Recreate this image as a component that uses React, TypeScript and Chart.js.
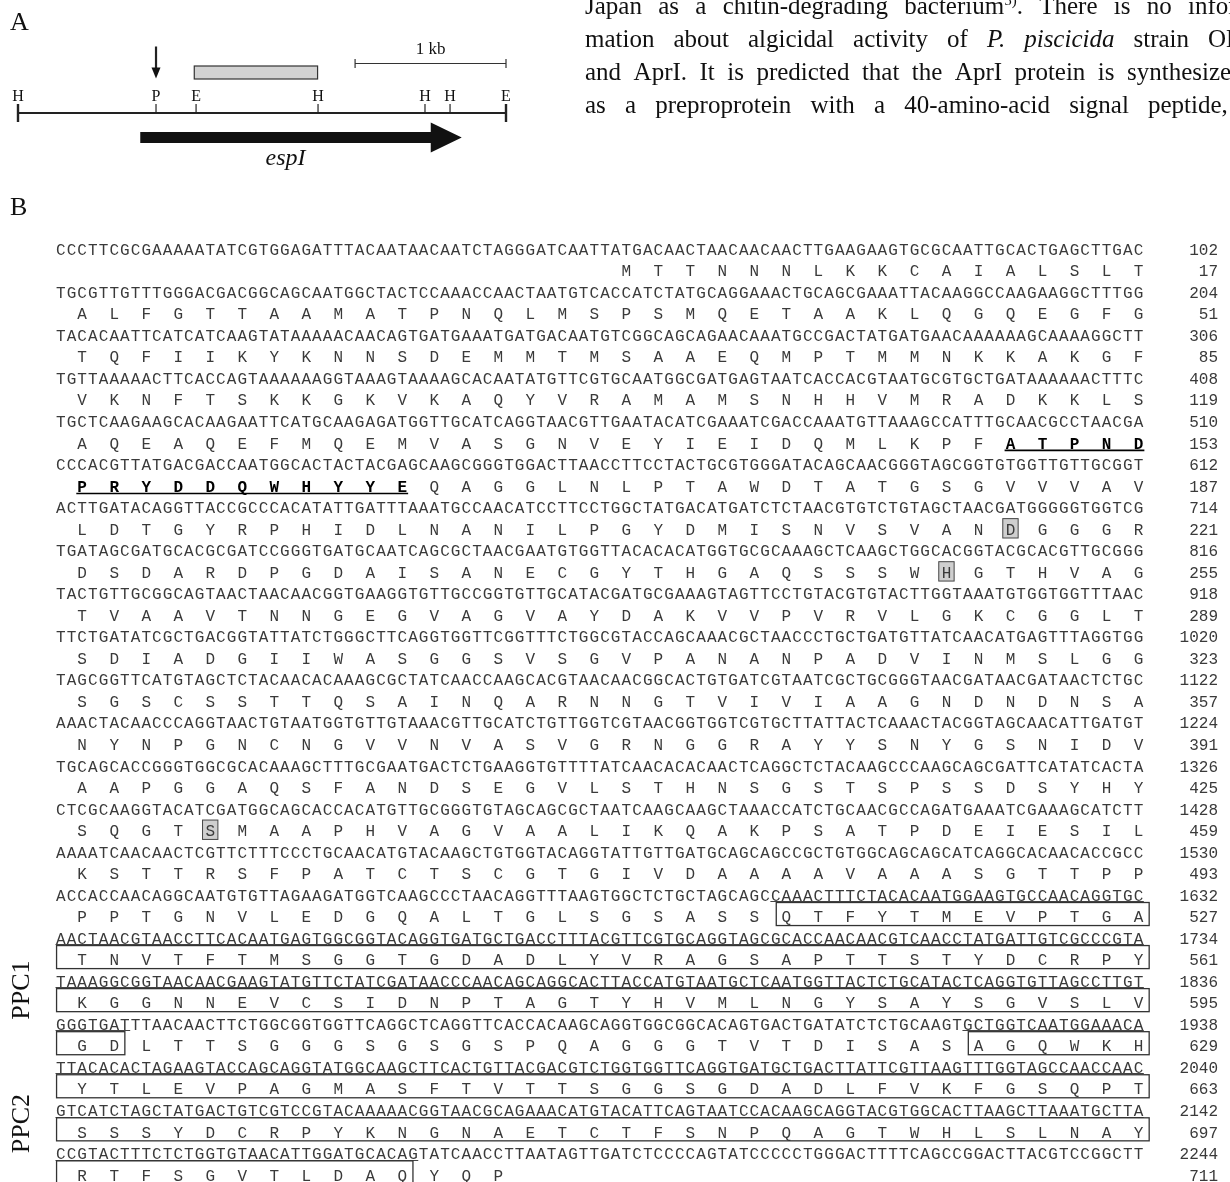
import { useEffect, useRef } from 'react';
import { Chart, registerables } from 'chart.js';

Chart.register(...registerables);

const W = 1230;
const H = 1182;

// ---------------- Panel A data (restriction map, bp) ----------------
const siteLabels = ['H', 'P', 'E', 'H', 'H', 'H', 'E'];
const sitePositionsBp = [0, 920, 1187, 2000, 2713, 2880, 3253];
const promoterBp = 920;
const probeRangeBp = [1175, 1997];
const geneRangeBp = [815, 2958];
const geneLabel = 'espI';
const scaleBarRangeBp = [2247, 3253];
const scaleBarLabel = '1 kb';

// ---------------- Paragraph text (top right) ----------------
type Run = { t: string; it?: boolean; sup?: boolean };
const paragraphLines: Run[][][] = [
  [[{ t: 'Japan' }], [{ t: 'as' }], [{ t: 'a' }], [{ t: 'chitin-degrading' }], [{ t: 'bacterium' }, { t: '5)', sup: true }, { t: '.' }], [{ t: 'There' }], [{ t: 'is' }], [{ t: 'no' }], [{ t: 'infor-' }]],
  [[{ t: 'mation' }], [{ t: 'about' }], [{ t: 'algicidal' }], [{ t: 'activity' }], [{ t: 'of' }], [{ t: 'P.', it: true }], [{ t: 'piscicida', it: true }], [{ t: 'strain' }], [{ t: 'OK-1' }]],
  [[{ t: 'and' }], [{ t: 'AprI.' }], [{ t: 'It' }], [{ t: 'is' }], [{ t: 'predicted' }], [{ t: 'that' }], [{ t: 'the' }], [{ t: 'AprI' }], [{ t: 'protein' }], [{ t: 'is' }], [{ t: 'synthesized' }]],
  [[{ t: 'as' }], [{ t: 'a' }], [{ t: 'preproprotein' }], [{ t: 'with' }], [{ t: 'a' }], [{ t: '40-amino-acid' }], [{ t: 'signal' }], [{ t: 'peptide,' }]],
];

// ---------------- Panel B data (sequence) ----------------
const ntRows: string[] = [
  'CCCTTCGCGAAAAATATCGTGGAGATTTACAATAACAATCTAGGGATCAATTATGACAACTAACAACAACTTGAAGAAGTGCGCAATTGCACTGAGCTTGAC',
  'TGCGTTGTTTGGGACGACGGCAGCAATGGCTACTCCAAACCAACTAATGTCACCATCTATGCAGGAAACTGCAGCGAAATTACAAGGCCAAGAAGGCTTTGG',
  'TACACAATTCATCATCAAGTATAAAAACAACAGTGATGAAATGATGACAATGTCGGCAGCAGAACAAATGCCGACTATGATGAACAAAAAAGCAAAAGGCTT',
  'TGTTAAAAACTTCACCAGTAAAAAAGGTAAAGTAAAAGCACAATATGTTCGTGCAATGGCGATGAGTAATCACCACGTAATGCGTGCTGATAAAAAACTTTC',
  'TGCTCAAGAAGCACAAGAATTCATGCAAGAGATGGTTGCATCAGGTAACGTTGAATACATCGAAATCGACCAAATGTTAAAGCCATTTGCAACGCCTAACGA',
  'CCCACGTTATGACGACCAATGGCACTACTACGAGCAAGCGGGTGGACTTAACCTTCCTACTGCGTGGGATACAGCAACGGGTAGCGGTGTGGTTGTTGCGGT',
  'ACTTGATACAGGTTACCGCCCACATATTGATTTAAATGCCAACATCCTTCCTGGCTATGACATGATCTCTAACGTGTCTGTAGCTAACGATGGGGGTGGTCG',
  'TGATAGCGATGCACGCGATCCGGGTGATGCAATCAGCGCTAACGAATGTGGTTACACACATGGTGCGCAAAGCTCAAGCTGGCACGGTACGCACGTTGCGGG',
  'TACTGTTGCGGCAGTAACTAACAACGGTGAAGGTGTTGCCGGTGTTGCATACGATGCGAAAGTAGTTCCTGTACGTGTACTTGGTAAATGTGGTGGTTTAAC',
  'TTCTGATATCGCTGACGGTATTATCTGGGCTTCAGGTGGTTCGGTTTCTGGCGTACCAGCAAACGCTAACCCTGCTGATGTTATCAACATGAGTTTAGGTGG',
  'TAGCGGTTCATGTAGCTCTACAACACAAAGCGCTATCAACCAAGCACGTAACAACGGCACTGTGATCGTAATCGCTGCGGGTAACGATAACGATAACTCTGC',
  'AAACTACAACCCAGGTAACTGTAATGGTGTTGTAAACGTTGCATCTGTTGGTCGTAACGGTGGTCGTGCTTATTACTCAAACTACGGTAGCAACATTGATGT',
  'TGCAGCACCGGGTGGCGCACAAAGCTTTGCGAATGACTCTGAAGGTGTTTTATCAACACACAACTCAGGCTCTACAAGCCCAAGCAGCGATTCATATCACTA',
  'CTCGCAAGGTACATCGATGGCAGCACCACATGTTGCGGGTGTAGCAGCGCTAATCAAGCAAGCTAAACCATCTGCAACGCCAGATGAAATCGAAAGCATCTT',
  'AAAATCAACAACTCGTTCTTTCCCTGCAACATGTACAAGCTGTGGTACAGGTATTGTTGATGCAGCAGCCGCTGTGGCAGCAGCATCAGGCACAACACCGCC',
  'ACCACCAACAGGCAATGTGTTAGAAGATGGTCAAGCCCTAACAGGTTTAAGTGGCTCTGCTAGCAGCCAAACTTTCTACACAATGGAAGTGCCAACAGGTGC',
  'AACTAACGTAACCTTCACAATGAGTGGCGGTACAGGTGATGCTGACCTTTACGTTCGTGCAGGTAGCGCACCAACAACGTCAACCTATGATTGTCGCCCGTA',
  'TAAAGGCGGTAACAACGAAGTATGTTCTATCGATAACCCAACAGCAGGCACTTACCATGTAATGCTCAATGGTTACTCTGCATACTCAGGTGTTAGCCTTGT',
  'GGGTGATTTAACAACTTCTGGCGGTGGTTCAGGCTCAGGTTCACCACAAGCAGGTGGCGGCACAGTGACTGATATCTCTGCAAGTGCTGGTCAATGGAAACA',
  'TTACACACTAGAAGTACCAGCAGGTATGGCAAGCTTCACTGTTACGACGTCTGGTGGTTCAGGTGATGCTGACTTATTCGTTAAGTTTGGTAGCCAACCAAC',
  'GTCATCTAGCTATGACTGTCGTCCGTACAAAAACGGTAACGCAGAAACATGTACATTCAGTAATCCACAAGCAGGTACGTGGCACTTAAGCTTAAATGCTTA',
  'CCGTACTTTCTCTGGTGTAACATTGGATGCACAGTATCAACCTTAATAGTTGATCTCCCCAGTATCCCCCTGGGACTTTTCAGCCGGACTTACGTCCGGCTT',
];
const ntEndNumbers = [102, 204, 306, 408, 510, 612, 714, 816, 918, 1020, 1122, 1224, 1326, 1428, 1530, 1632, 1734, 1836, 1938, 2040, 2142, 2244];

const aaRows: string[] = [
  'MTTNNNLKKCAIALSLT',
  'ALFGTTAAMATPNQLMSPSMQETAAKLQGQEGFG',
  'TQFIIKYKNNSDEMMTMSAAEQMPTMMNKKAKGF',
  'VKNFTSKKGKVKAQYVRAMAMSNHHVMRADKKLS',
  'AQEAQEFMQEMVASGNVEYIEIDQMLKPFATPND',
  'PRYDDQWHYYEQAGGLNLPTAWDTATGSGVVVAV',
  'LDTGYRPHIDLNANILPGYDMISNVSVANDGGGR',
  'DSDARDPGDAISANECGYTHGAQSSSWHGTHVAG',
  'TVAAVTNNGEGVAGVAYDAKVVPVRVLGKCGGLT',
  'SDIADGIIWASGGSVSGVPANANPADVINMSLGG',
  'SGSCSSTTQSAINQARNNGTVIVIAAGNDNDNSA',
  'NYNPGNCNGVVNVASVGRNGGRAYYSNYGSNIDV',
  'AAPGGAQSFANDSEGVLSTHNSGSTSPSSDSYHY',
  'SQGTSMAAPHVAGVAALIKQAKPSATPDEIESIL',
  'KSTTRSFPATCTSCGTGIVDAAAAVAAASGTTPP',
  'PPTGNVLEDGQALTGLSGSASSQTFYTMEVPTGA',
  'TNVTFTMSGGTGDADLYVRAGSAPTTSTYDCRPY',
  'KGGNNEVCSIDNPTAGTYHVMLNGYSAYSGVSLV',
  'GDLTTSGGGSGSGSPQAGGGTVTDISASAGQWKH',
  'YTLEVPAGMASFTVTTSGGSGDADLFVKFGSQPT',
  'SSSYDCRPYKNGNAETCTFSNPQAGTWHLSLNAY',
  'RTFSGVTLDAQYQP',
];
const aaStartSlot = [17, 0, 0, 0, 0, 0, 0, 0, 0, 0, 0, 0, 0, 0, 0, 0, 0, 0, 0, 0, 0, 0];
const aaEndNumbers = [17, 51, 85, 119, 153, 187, 221, 255, 289, 323, 357, 391, 425, 459, 493, 527, 561, 595, 629, 663, 697, 711];

// bold + underlined motif residues: [row, firstSlot, lastSlot]
const boldMotifs: number[][] = [[4, 29, 33], [5, 0, 10]];
// shaded catalytic residues: [row, slot]
const catalyticResidues: number[][] = [[6, 29], [7, 27], [13, 4]];
// PPC domain boxes on amino-acid rows: [row, firstSlot, lastSlot]
const ppcBoxes: number[][] = [
  [15, 22, 33], [16, 0, 33], [17, 0, 33], [18, 0, 1], [18, 28, 33], [19, 0, 33], [20, 0, 33], [21, 0, 10],
];
// underlined nucleotides: [row, firstCol, lastCol]
const ntUnderlines: number[][] = [
  [15, 67, 101], [16, 0, 101], [17, 0, 101], [18, 0, 6], [18, 85, 101], [19, 0, 101], [20, 0, 101], [21, 0, 33],
];
const domainLabels = ['PPC1', 'PPC2'];
const domainLabelLines = [34.4, 40.6];

// ---------------- layout / style (not data) ----------------
const MONO = '"Liberation Mono", "DejaVu Sans Mono", monospace';
const SERIF = '"Liberation Serif", "DejaVu Serif", serif';
const L = {
  mapLeftPx: 18,
  mapRightPx: 506,
  seqLeftPx: 55.5,
  colPx: 10.67,
  seqTopPx: 249.5,
  linePx: 21.53,
  numRightCol: 108.95,
  labelLeftPx: 10,
  aLabelY: 23,
  bLabelY: 208,
  mapLineY: 113,
  tickTopY: 104,
  endTickTopY: 104,
  endTickBottomY: 122,
  siteLabelBaseY: 100.5,
  arrowTopY: 46.5,
  arrowTipY: 78.5,
  probeTopY: 66,
  probeBottomY: 79,
  scaleBarY: 63.5,
  scaleLabelBaseY: 54,
  geneY: 137.5,
  geneShaftHalf: 5.5,
  geneHeadHalf: 15,
  geneHeadLen: 31,
  geneLabelBaseY: 165,
  paraLeftPx: 585,
  paraBaseY: [14, 47, 80, 113],
  paraLastWordX: [1188, 1208, 1127, 1148],
  paraFontPx: 25,
  seqFontPx: 16,
  ppcCol: -3.1,
};

function drawFigure(chart: any) {
  const ctx: CanvasRenderingContext2D = chart.ctx;
  const sc = chart.scales;
  const XM = (bp: number) => sc.xMap.getPixelForValue(bp);
  const XP = (v: number) => sc.xPage.getPixelForValue(v);
  const YP = (v: number) => sc.yPage.getPixelForValue(v);
  const XC = (c: number) => sc.xCol.getPixelForValue(c);
  const YL = (l: number) => sc.yLine.getPixelForValue(l);

  ctx.save();
  ctx.fillStyle = '#ffffff';
  ctx.fillRect(0, 0, W, H);

  // ---------- Panel A ----------
  ctx.fillStyle = '#111';
  ctx.font = `26px ${SERIF}`;
  ctx.textAlign = 'left';
  ctx.textBaseline = 'middle';
  ctx.fillText('A', XP(L.labelLeftPx), YP(L.aLabelY));

  const last = sitePositionsBp.length - 1;
  ctx.strokeStyle = '#222';
  ctx.lineWidth = 2.2;
  ctx.beginPath();
  ctx.moveTo(XM(sitePositionsBp[0]), YP(L.mapLineY));
  ctx.lineTo(XM(sitePositionsBp[last]), YP(L.mapLineY));
  ctx.stroke();

  ctx.font = `16px ${SERIF}`;
  ctx.textAlign = 'center';
  ctx.textBaseline = 'alphabetic';
  sitePositionsBp.forEach((bp, i) => {
    const isEnd = i === 0 || i === last;
    ctx.lineWidth = isEnd ? 2.4 : 1.2;
    ctx.beginPath();
    ctx.moveTo(XM(bp), YP(isEnd ? L.endTickTopY : L.tickTopY));
    ctx.lineTo(XM(bp), YP(isEnd ? L.endTickBottomY : L.mapLineY));
    ctx.stroke();
    ctx.fillText(siteLabels[i], XM(bp), YP(L.siteLabelBaseY));
  });

  // promoter arrow
  const px = XM(promoterBp);
  ctx.lineWidth = 2.2;
  ctx.beginPath();
  ctx.moveTo(px, YP(L.arrowTopY));
  ctx.lineTo(px, YP(L.arrowTipY - 8));
  ctx.stroke();
  ctx.beginPath();
  ctx.moveTo(px - 4.5, YP(L.arrowTipY - 11));
  ctx.lineTo(px + 4.5, YP(L.arrowTipY - 11));
  ctx.lineTo(px, YP(L.arrowTipY));
  ctx.closePath();
  ctx.fill();

  // probe
  const pLeft = XM(probeRangeBp[0]);
  const pW = XM(probeRangeBp[1]) - pLeft;
  const pTop = YP(L.probeTopY);
  const pH = YP(L.probeBottomY) - pTop;
  ctx.fillStyle = '#d2d2d2';
  ctx.fillRect(pLeft, pTop, pW, pH);
  ctx.strokeStyle = '#333';
  ctx.lineWidth = 1.2;
  ctx.strokeRect(pLeft, pTop, pW, pH);

  // scale bar
  ctx.lineWidth = 1.2;
  ctx.beginPath();
  ctx.moveTo(XM(scaleBarRangeBp[0]), YP(L.scaleBarY));
  ctx.lineTo(XM(scaleBarRangeBp[1]), YP(L.scaleBarY));
  [0, 1].forEach((k) => {
    ctx.moveTo(XM(scaleBarRangeBp[k]), YP(L.scaleBarY - 4.5));
    ctx.lineTo(XM(scaleBarRangeBp[k]), YP(L.scaleBarY + 4.5));
  });
  ctx.stroke();
  ctx.fillStyle = '#111';
  ctx.font = `17px ${SERIF}`;
  ctx.fillText(scaleBarLabel, (XM(scaleBarRangeBp[0]) + XM(scaleBarRangeBp[1])) / 2, YP(L.scaleLabelBaseY));

  // gene arrow
  const g0 = XM(geneRangeBp[0]);
  const g1 = XM(geneRangeBp[1]);
  const gh = g1 - L.geneHeadLen;
  const gy = YP(L.geneY);
  ctx.fillStyle = '#111';
  ctx.beginPath();
  ctx.moveTo(g0, gy - L.geneShaftHalf);
  ctx.lineTo(gh, gy - L.geneShaftHalf);
  ctx.lineTo(gh, gy - L.geneHeadHalf);
  ctx.lineTo(g1, gy);
  ctx.lineTo(gh, gy + L.geneHeadHalf);
  ctx.lineTo(gh, gy + L.geneShaftHalf);
  ctx.lineTo(g0, gy + L.geneShaftHalf);
  ctx.closePath();
  ctx.fill();
  ctx.font = `italic 24px ${SERIF}`;
  ctx.textAlign = 'center';
  ctx.fillText(geneLabel, (g0 + gh) / 2, YP(L.geneLabelBaseY));

  // ---------- paragraph ----------
  const fontFor = (r: Run) => {
    const size = r.sup ? Math.round(L.paraFontPx * 0.6) : L.paraFontPx;
    return `${r.it ? 'italic ' : ''}${size}px ${SERIF}`;
  };
  const wordWidth = (w: Run[]) => w.reduce((s, r) => { ctx.font = fontFor(r); return s + ctx.measureText(r.t).width; }, 0);
  ctx.textAlign = 'left';
  ctx.textBaseline = 'alphabetic';
  ctx.fillStyle = '#111';
  paragraphLines.forEach((words, li) => {
    const x0 = XP(L.paraLeftPx);
    const before = words.slice(0, -1).reduce((s, w) => s + wordWidth(w), 0);
    const gap = (XP(L.paraLastWordX[li]) - x0 - before) / (words.length - 1);
    let x = x0;
    const by = YP(L.paraBaseY[li]);
    words.forEach((w) => {
      w.forEach((r) => {
        ctx.font = fontFor(r);
        ctx.fillText(r.t, x, r.sup ? by - L.paraFontPx * 0.38 : by);
        x += ctx.measureText(r.t).width;
      });
      x += gap;
    });
  });

  // ---------- Panel B ----------
  ctx.fillStyle = '#111';
  ctx.font = `26px ${SERIF}`;
  ctx.textAlign = 'left';
  ctx.textBaseline = 'middle';
  ctx.fillText('B', XP(L.labelLeftPx), YP(L.bLabelY));

  const colW = XC(1) - XC(0);
  const lineH = YL(1) - YL(0);
  const capHalf = L.seqFontPx * 0.33;
  const slotCenterCol = (slot: number) => 3 * slot + 2.5;

  // shaded residues
  catalyticResidues.forEach(([row, slot]) => {
    const cx = XC(slotCenterCol(slot));
    const cy = YL(2 * row + 1);
    const bx = cx - 0.72 * colW;
    const by = cy - 0.5 * lineH;
    ctx.fillStyle = '#cfcfcf';
    ctx.fillRect(bx, by, 1.44 * colW, 0.9 * lineH);
    ctx.strokeStyle = '#444';
    ctx.lineWidth = 1;
    ctx.strokeRect(bx, by, 1.44 * colW, 0.9 * lineH);
  });

  ctx.textAlign = 'center';
  ctx.textBaseline = 'alphabetic';
  const normalFont = `${L.seqFontPx}px ${MONO}`;
  const boldFont = `bold ${L.seqFontPx}px ${MONO}`;
  const isBold = (row: number, slot: number) => boldMotifs.some(([r, a, b]) => r === row && slot >= a && slot <= b);

  ntRows.forEach((seq, row) => {
    const y = YL(2 * row) + capHalf;
    ctx.font = normalFont;
    ctx.fillStyle = '#3a3a3a';
    for (let c = 0; c < seq.length; c++) ctx.fillText(seq[c], XC(c + 0.5), y);
  });
  aaRows.forEach((seq, row) => {
    const y = YL(2 * row + 1) + capHalf;
    for (let k = 0; k < seq.length; k++) {
      const slot = aaStartSlot[row] + k;
      const bold = isBold(row, slot);
      ctx.font = bold ? boldFont : normalFont;
      ctx.fillStyle = bold ? '#000' : '#3a3a3a';
      ctx.fillText(seq[k], XC(slotCenterCol(slot)), y);
    }
  });

  // numbers
  ctx.textAlign = 'right';
  ctx.font = normalFont;
  ctx.fillStyle = '#3a3a3a';
  ntEndNumbers.forEach((n, row) => ctx.fillText(String(n), XC(L.numRightCol), YL(2 * row) + capHalf));
  aaEndNumbers.forEach((n, row) => ctx.fillText(String(n), XC(L.numRightCol), YL(2 * row + 1) + capHalf));

  // bold motif underline
  ctx.strokeStyle = '#000';
  ctx.lineWidth = 1.6;
  boldMotifs.forEach(([row, a, b]) => {
    const y = YL(2 * row + 1) + 0.33 * lineH;
    ctx.beginPath();
    ctx.moveTo(XC(slotCenterCol(a)) - 0.55 * colW, y);
    ctx.lineTo(XC(slotCenterCol(b)) + 0.55 * colW, y);
    ctx.stroke();
  });

  // nt underlines
  ctx.strokeStyle = '#444';
  ctx.lineWidth = 1;
  ntUnderlines.forEach(([row, a, b]) => {
    const y = Math.round(YL(2 * row) + 0.27 * lineH) + 0.5;
    ctx.beginPath();
    ctx.moveTo(XC(a), y);
    ctx.lineTo(XC(b + 1), y);
    ctx.stroke();
  });

  // PPC boxes
  ctx.strokeStyle = '#333';
  ctx.lineWidth = 1.3;
  ppcBoxes.forEach(([row, a, b]) => {
    const left = a === 0 ? XC(0.1) : XC(slotCenterCol(a)) - 0.95 * colW;
    const right = XC(slotCenterCol(b)) + 1.0 * colW;
    const top = YL(2 * row + 1) - 0.67 * lineH;
    const bottom = YL(2 * row + 1) + 0.4 * lineH;
    ctx.strokeRect(left, top, right - left, bottom - top);
  });

  // domain labels
  ctx.fillStyle = '#111';
  ctx.font = `26px ${SERIF}`;
  ctx.textAlign = 'center';
  ctx.textBaseline = 'middle';
  domainLabels.forEach((lab, i) => {
    ctx.save();
    ctx.translate(XC(L.ppcCol), YL(domainLabelLines[i]));
    ctx.rotate(-Math.PI / 2);
    ctx.fillText(lab, 0, 0);
    ctx.restore();
  });

  ctx.restore();
}

const figurePlugin = {
  id: 'sequenceFigure',
  afterDraw(chart: any) {
    drawFigure(chart);
  },
};

const pxPerBp = (L.mapRightPx - L.mapLeftPx) / sitePositionsBp[sitePositionsBp.length - 1];

export default function App() {
  const ref = useRef<HTMLCanvasElement>(null);
  useEffect(() => {
    const canvas = ref.current;
    if (!canvas) return;
    const hidden = { display: false, bounds: 'data' as const, grid: { display: false }, ticks: { display: false } };
    const chart = new Chart(canvas, {
      type: 'scatter',
      data: { datasets: [] },
      options: {
        animation: false,
        responsive: false,
        devicePixelRatio: 1,
        events: [],
        layout: { padding: 0 },
        plugins: { legend: { display: false }, tooltip: { enabled: false }, title: { display: false } },
        scales: {
          x: { type: 'linear', ...hidden, min: 0, max: W },
          y: { type: 'linear', ...hidden, min: 0, max: H },
          xPage: { type: 'linear', axis: 'x', ...hidden, min: 0, max: W },
          yPage: { type: 'linear', axis: 'y', ...hidden, reverse: true, min: 0, max: H },
          xMap: { type: 'linear', axis: 'x', ...hidden, min: -L.mapLeftPx / pxPerBp, max: (W - L.mapLeftPx) / pxPerBp },
          xCol: { type: 'linear', axis: 'x', ...hidden, min: -L.seqLeftPx / L.colPx, max: (W - L.seqLeftPx) / L.colPx },
          yLine: { type: 'linear', axis: 'y', ...hidden, reverse: true, min: -L.seqTopPx / L.linePx, max: (H - L.seqTopPx) / L.linePx },
        },
      } as any,
      plugins: [figurePlugin],
    });
    return () => chart.destroy();
  }, []);
  return (
    <div style={{ position: 'absolute', left: 0, top: 0, width: W, height: H, background: '#fff' }}>
      <canvas ref={ref} width={W} height={H} style={{ display: 'block', width: W, height: H }} />
    </div>
  );
}
